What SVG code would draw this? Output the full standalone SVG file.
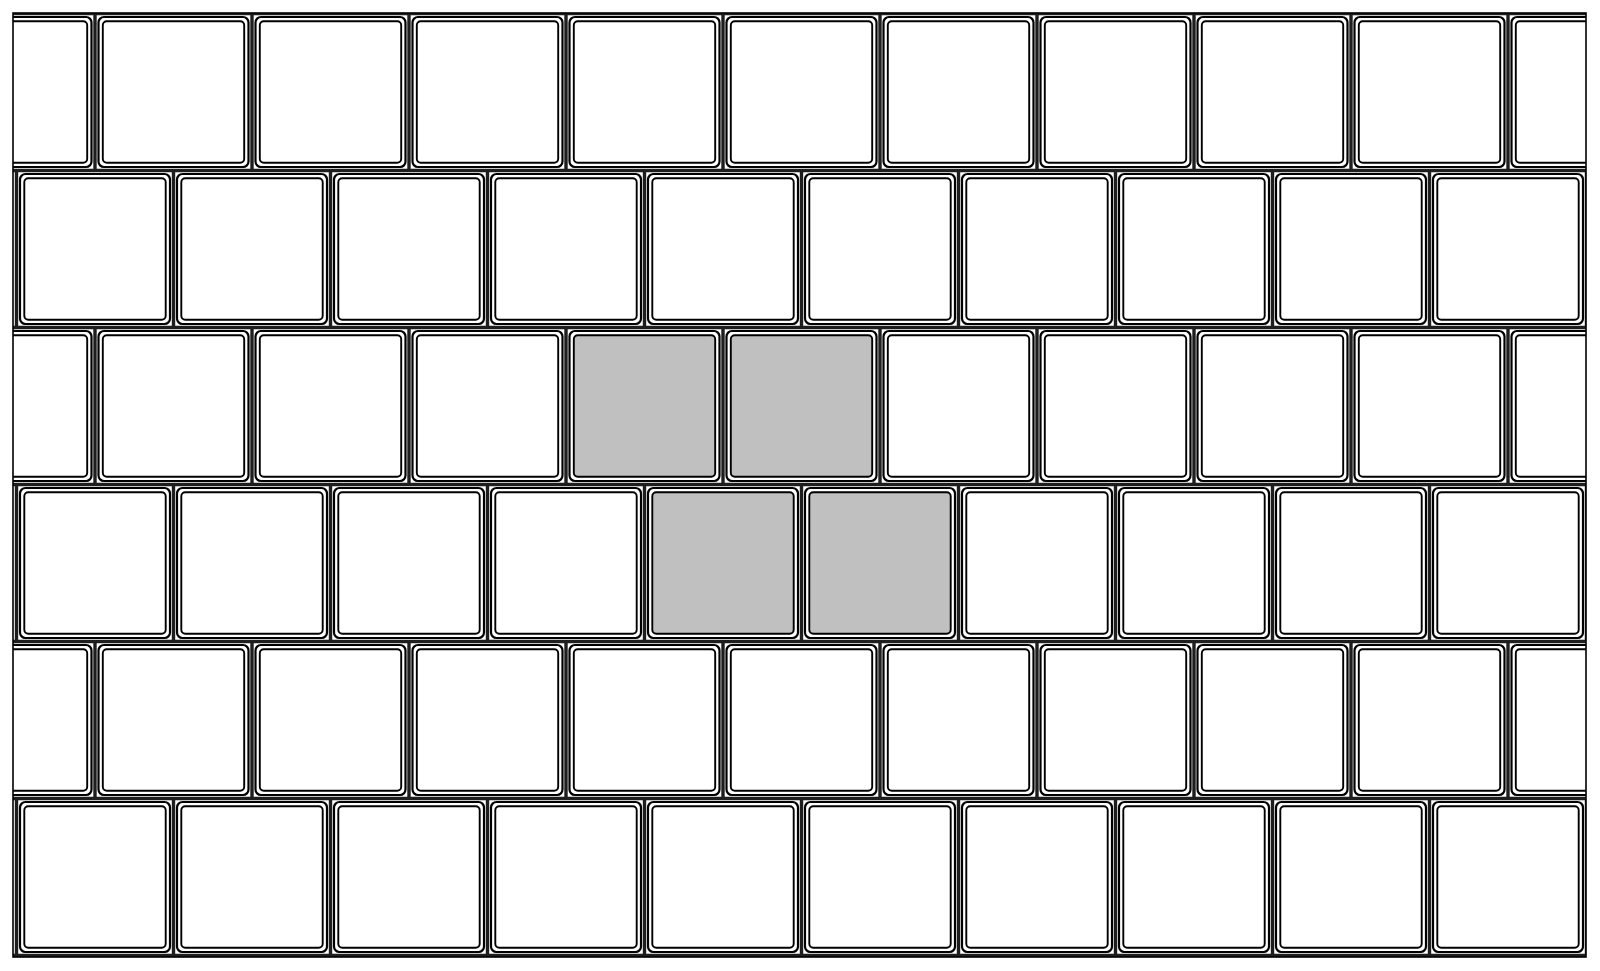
<svg xmlns="http://www.w3.org/2000/svg" xmlns:xlink="http://www.w3.org/1999/xlink" width="1600" height="971" viewBox="0 0 1600 971">
<style>
.o{fill:#fff;stroke:#000;stroke-width:2.2}
.i{fill:#fff;stroke:#000;stroke-width:1.9}
.gr{stroke:#1e1e1e;stroke-width:3.4;fill:none}
</style>
<defs>
<clipPath id="c"><rect x="13" y="13" width="1573" height="944"/></clipPath>
<g id="t"><rect class="o" x="3.5" y="3.5" width="150" height="150" rx="5.5"/><rect class="i" x="7.8" y="7.8" width="141.4" height="141.4" rx="4"/></g>
<g id="tg"><rect class="o" x="3.5" y="3.5" width="150" height="150" rx="5.5"/><rect class="i" x="7.8" y="7.8" width="141.4" height="141.4" rx="4" style="fill:#c0c0c0"/></g>
</defs>
<rect width="1600" height="971" fill="#fff"/>
<g clip-path="url(#c)">
<g id="grout">
<path class="gr" d="M0 13.5H1600M0 170.5H1600M0 327.5H1600M0 484.5H1600M0 641.5H1600M0 798.5H1600M0 955.5H1600
M95 13.5V170.5M252 13.5V170.5M409 13.5V170.5M566 13.5V170.5M723 13.5V170.5M880 13.5V170.5M1037 13.5V170.5M1194 13.5V170.5M1351 13.5V170.5M1508 13.5V170.5
M95 327.5V484.5M252 327.5V484.5M409 327.5V484.5M566 327.5V484.5M723 327.5V484.5M880 327.5V484.5M1037 327.5V484.5M1194 327.5V484.5M1351 327.5V484.5M1508 327.5V484.5
M95 641.5V798.5M252 641.5V798.5M409 641.5V798.5M566 641.5V798.5M723 641.5V798.5M880 641.5V798.5M1037 641.5V798.5M1194 641.5V798.5M1351 641.5V798.5M1508 641.5V798.5
M16.5 170.5V327.5M173.5 170.5V327.5M330.5 170.5V327.5M487.5 170.5V327.5M644.5 170.5V327.5M801.5 170.5V327.5M958.5 170.5V327.5M1115.5 170.5V327.5M1272.5 170.5V327.5M1429.5 170.5V327.5M1586.5 170.5V327.5
M16.5 484.5V641.5M173.5 484.5V641.5M330.5 484.5V641.5M487.5 484.5V641.5M644.5 484.5V641.5M801.5 484.5V641.5M958.5 484.5V641.5M1115.5 484.5V641.5M1272.5 484.5V641.5M1429.5 484.5V641.5M1586.5 484.5V641.5
M16.5 798.5V955.5M173.5 798.5V955.5M330.5 798.5V955.5M487.5 798.5V955.5M644.5 798.5V955.5M801.5 798.5V955.5M958.5 798.5V955.5M1115.5 798.5V955.5M1272.5 798.5V955.5M1429.5 798.5V955.5M1586.5 798.5V955.5"/>
</g>
<g id="row1">
<use href="#t" x="-62" y="13.5"/><use href="#t" x="95" y="13.5"/><use href="#t" x="252" y="13.5"/><use href="#t" x="409" y="13.5"/><use href="#t" x="566" y="13.5"/><use href="#t" x="723" y="13.5"/><use href="#t" x="880" y="13.5"/><use href="#t" x="1037" y="13.5"/><use href="#t" x="1194" y="13.5"/><use href="#t" x="1351" y="13.5"/><use href="#t" x="1508" y="13.5"/>
</g>
<g id="row2">
<use href="#t" x="16.5" y="170.5"/><use href="#t" x="173.5" y="170.5"/><use href="#t" x="330.5" y="170.5"/><use href="#t" x="487.5" y="170.5"/><use href="#t" x="644.5" y="170.5"/><use href="#t" x="801.5" y="170.5"/><use href="#t" x="958.5" y="170.5"/><use href="#t" x="1115.5" y="170.5"/><use href="#t" x="1272.5" y="170.5"/><use href="#t" x="1429.5" y="170.5"/>
</g>
<g id="row3">
<use href="#t" x="-62" y="327.5"/><use href="#t" x="95" y="327.5"/><use href="#t" x="252" y="327.5"/><use href="#t" x="409" y="327.5"/><use href="#tg" x="566" y="327.5"/><use href="#tg" x="723" y="327.5"/><use href="#t" x="880" y="327.5"/><use href="#t" x="1037" y="327.5"/><use href="#t" x="1194" y="327.5"/><use href="#t" x="1351" y="327.5"/><use href="#t" x="1508" y="327.5"/>
</g>
<g id="row4">
<use href="#t" x="16.5" y="484.5"/><use href="#t" x="173.5" y="484.5"/><use href="#t" x="330.5" y="484.5"/><use href="#t" x="487.5" y="484.5"/><use href="#tg" x="644.5" y="484.5"/><use href="#tg" x="801.5" y="484.5"/><use href="#t" x="958.5" y="484.5"/><use href="#t" x="1115.5" y="484.5"/><use href="#t" x="1272.5" y="484.5"/><use href="#t" x="1429.5" y="484.5"/>
</g>
<g id="row5">
<use href="#t" x="-62" y="641.5"/><use href="#t" x="95" y="641.5"/><use href="#t" x="252" y="641.5"/><use href="#t" x="409" y="641.5"/><use href="#t" x="566" y="641.5"/><use href="#t" x="723" y="641.5"/><use href="#t" x="880" y="641.5"/><use href="#t" x="1037" y="641.5"/><use href="#t" x="1194" y="641.5"/><use href="#t" x="1351" y="641.5"/><use href="#t" x="1508" y="641.5"/>
</g>
<g id="row6">
<use href="#t" x="16.5" y="798.5"/><use href="#t" x="173.5" y="798.5"/><use href="#t" x="330.5" y="798.5"/><use href="#t" x="487.5" y="798.5"/><use href="#t" x="644.5" y="798.5"/><use href="#t" x="801.5" y="798.5"/><use href="#t" x="958.5" y="798.5"/><use href="#t" x="1115.5" y="798.5"/><use href="#t" x="1272.5" y="798.5"/><use href="#t" x="1429.5" y="798.5"/>
</g>
</g>
<rect id="frame" x="13" y="13" width="1573" height="944" fill="none" stroke="#000" stroke-width="1.6"/>
</svg>
